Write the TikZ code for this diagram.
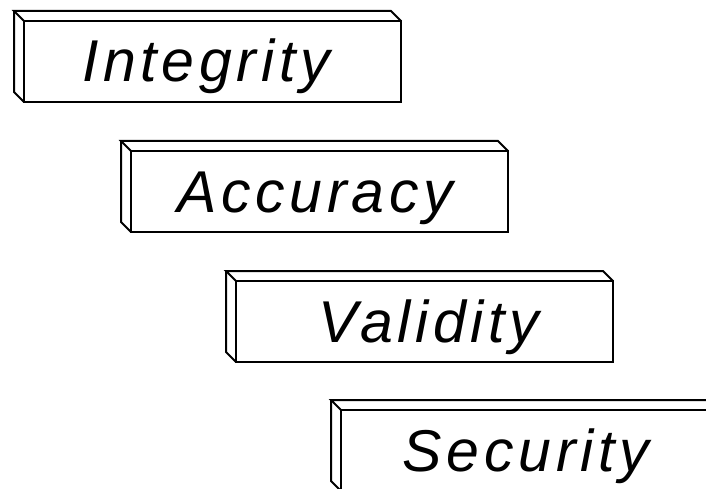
\documentclass[tikz,border=0pt]{standalone}
\usepackage{fontspec}
\setmainfont{Liberation Sans}
\newfontfamily\boxfont[LetterSpace=8]{Liberation Sans}
\usepackage{tikz}

\tikzset{boxtext/.style={anchor=base,inner sep=0pt,font=\boxfont\fontsize{59}{70}\selectfont\itshape}}

\begin{document}
\begin{tikzpicture}[x=1pt,y=-1pt,line width=2pt,line join=miter]
    \useasboundingbox (0,0) rectangle (706,489);
    \clip (0,0) rectangle (706,489);
    % Integrity
    \draw (24,21) rectangle (401,102);
    \draw (24,21) -- (14,11) -- (391,11) -- (401,21);
    \draw (24,102) -- (14,92) -- (14,11);
    \node[boxtext] (integrity) at (206,82) {Integrity};
    % Accuracy
    \draw (131,151) rectangle (508,232);
    \draw (131,151) -- (121,141) -- (498,141) -- (508,151);
    \draw (131,232) -- (121,222) -- (121,141);
    \node[boxtext] (accuracy) at (315,212) {Accuracy};
    % Validity
    \draw (236,281) rectangle (613,362);
    \draw (236,281) -- (226,271) -- (603,271) -- (613,281);
    \draw (236,362) -- (226,352) -- (226,271);
    \node[boxtext] (validity) at (429,342) {Validity};
    % Security
    \draw (341,410) rectangle (718,491);
    \draw (341,410) -- (331,400) -- (708,400) -- (718,410);
    \draw (341,491) -- (331,481) -- (331,400);
    \node[boxtext] (security) at (526,471) {Security};
\end{tikzpicture}
\end{document}
